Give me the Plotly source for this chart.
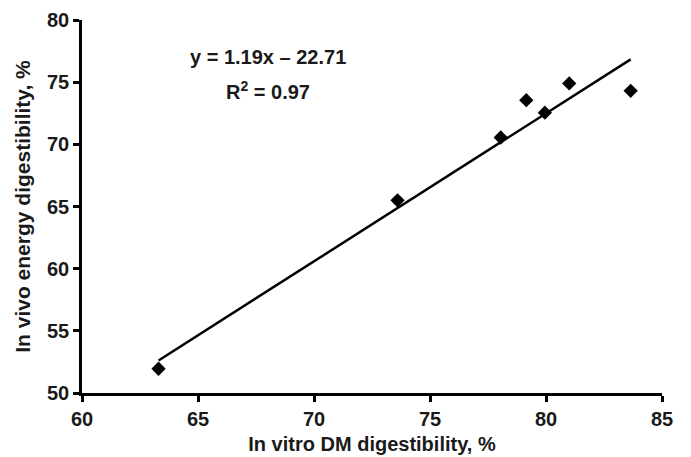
import plotly.graph_objects as go

# Data
in_vitro_dm = [63.3, 73.6, 78.05, 79.15, 79.95, 81.0, 83.65]
in_vivo_energy = [51.95, 65.5, 70.55, 73.55, 72.55, 74.9, 74.3]

# Regression reported on the chart
slope = 1.19
intercept = -22.71
r_squared = 0.97

x_ticks = [60, 65, 70, 75, 80, 85]
y_ticks = [50, 55, 60, 65, 70, 75, 80]

x_fit = [min(in_vitro_dm), max(in_vitro_dm)]
y_fit = [slope * v + intercept for v in x_fit]

font_family = "Liberation Sans, Arial, sans-serif"
text_color = "#1a1a1a"

fig = go.Figure()
fig.add_trace(go.Scatter(
    x=x_fit, y=y_fit, mode="lines",
    line=dict(color="black", width=2.5),
    showlegend=False, hoverinfo="skip",
))
fig.add_trace(go.Scatter(
    x=in_vitro_dm, y=in_vivo_energy, mode="markers",
    marker=dict(symbol="diamond", size=11, color="black"),
    showlegend=False,
))

ann_font = dict(family=font_family, size=20, color=text_color, weight="bold")
fig.add_annotation(
    x=68, y=77.0, xref="x", yref="y",
    text=f"y = {slope}x \u2013 {abs(intercept)}",
    showarrow=False, font=ann_font,
)
fig.add_annotation(
    x=68, y=74.3, xref="x", yref="y",
    text=f"R<sup>2</sup> = {r_squared}",
    showarrow=False, font=ann_font,
)

axis_common = dict(
    showgrid=False, zeroline=False, showline=True,
    linecolor="black", linewidth=2.5,
    ticks="outside", ticklen=6, tickwidth=2.5, tickcolor="black",
    tickfont=dict(family=font_family, size=20, color=text_color, weight="bold"),
    automargin=False,
)

fig.update_xaxes(
    range=[60, 85], tickvals=x_ticks,
    title=dict(text="In vitro DM digestibility, %", standoff=9,
               font=dict(family=font_family, size=20, color=text_color, weight="bold")),
    **axis_common,
)
fig.update_yaxes(
    range=[50, 80], tickvals=y_ticks,
    title=dict(text="In vivo energy digestibility, %", standoff=11,
               font=dict(family=font_family, size=21, color=text_color, weight="bold")),
    **axis_common,
)

fig.update_layout(
    width=691, height=457,
    margin=dict(l=74, r=37, t=12, b=72),
    plot_bgcolor="white", paper_bgcolor="white",
)

fig.write_html("out.html")
